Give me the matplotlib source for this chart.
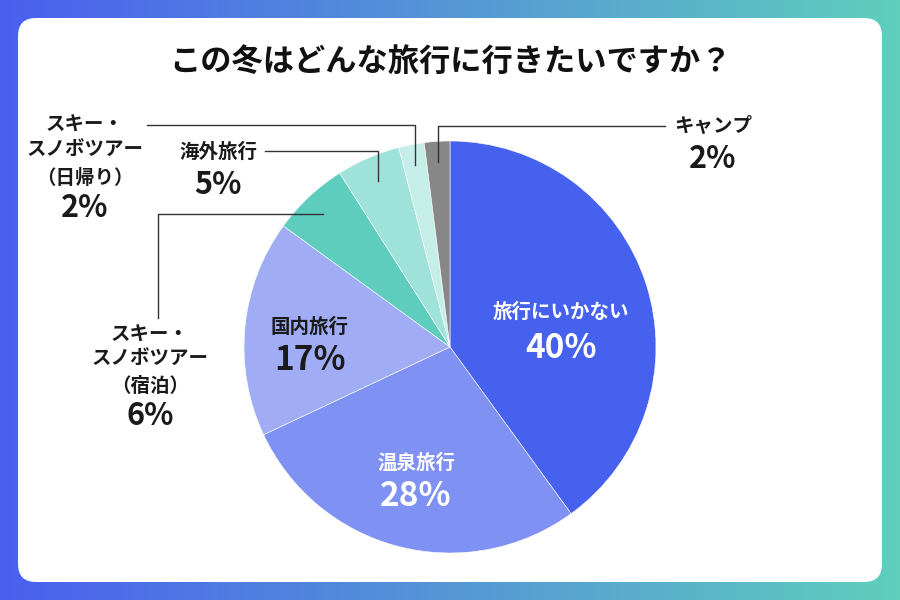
import numpy as np
import matplotlib.pyplot as plt
from matplotlib.patches import FancyBboxPatch

plt.rcParams['font.family'] = ['Noto Sans CJK JP', 'DejaVu Sans']

# Data
title = "この冬はどんな旅行に行きたいですか？"
labels = ["旅行にいかない", "温泉旅行", "国内旅行", "スキー・\nスノボツアー\n（宿泊）",
          "海外旅行", "スキー・\nスノボツアー\n（日帰り）", "キャンプ"]
values = [40, 28, 17, 6, 5, 2, 2]
colors = ["#4561EE", "#7F91F2", "#A0ADF5", "#5ECDBD", "#9FE2D9", "#C6EEE9", "#878787"]

W, H = 900, 600
fig = plt.figure(figsize=(9, 6), dpi=100)
ax = fig.add_axes([0, 0, 1, 1])
ax.set_xlim(0, W)
ax.set_ylim(0, H)
ax.set_aspect('equal')
ax.axis('off')

def Y(y):
    # convert pixel row (from top) to axes y
    return H - y

# gradient background
c1 = np.array([0x4A, 0x5F, 0xEF]) / 255
c2 = np.array([0x60, 0xCE, 0xBD]) / 255
t = np.linspace(0, 1, 256)
grad = (c1[None, :] * (1 - t[:, None]) + c2[None, :] * t[:, None])[None, :, :]
ax.imshow(grad, extent=[0, W, 0, H], aspect='auto', zorder=0)

# white panel
panel = FancyBboxPatch((18, Y(582)), 864, 564, boxstyle="round,pad=0,rounding_size=18",
                       fc='white', ec='none', zorder=1)
ax.add_patch(panel)

ax.text(450, Y(63), title, ha='center', va='center', fontsize=22.5,
        fontweight='bold', color='#111111', zorder=5)

# pie
cx, cy, r = 450, Y(347), 206
wedges, _ = ax.pie(values, colors=colors, startangle=90, counterclock=False,
                   center=(cx, cy), radius=r, frame=True,
                   wedgeprops=dict(edgecolor='white', linewidth=0.4))
for w in wedges:
    w.set_zorder(3)
ax.set_xlim(0, W)
ax.set_ylim(0, H)
ax.axis('off')

def mid_angle(i):
    before = sum(values[:i])
    frac = (before + values[i] / 2) / sum(values)
    return np.deg2rad(90 - 360 * frac)

def point_on(i, k):
    a = mid_angle(i)
    return cx + k * r * np.cos(a), cy + k * r * np.sin(a)

txt = '#1a1a1a'
lab_fs = 14
pct_fs = 22

# labels inside the pie
inner = {0: (561, 312, 348), 1: (416, 463, 496), 2: (310, 327, 360)}
for i, (x, y1, y2) in inner.items():
    tc = 'white' if i < 2 else txt
    ax.text(x, Y(y1), labels[i], ha='center', va='center', fontsize=lab_fs,
            fontweight='bold', color=tc, zorder=5)
    ax.text(x, Y(y2), f"{values[i]}%", ha='center', va='center', fontsize=24,
            fontweight='bold', color=tc, zorder=5)

lc = '#333333'
lw = 1.0

# キャンプ
x0, y0 = point_on(6, 0.9)
ax.plot([x0, x0, 665], [y0, Y(126), Y(126)], color=lc, lw=lw, zorder=4)
ax.text(713, Y(126), labels[6], ha='center', va='center', fontsize=lab_fs,
        fontweight='bold', color=txt, zorder=5)
ax.text(713, Y(159), f"{values[6]}%", ha='center', va='center', fontsize=pct_fs,
        fontweight='bold', color=txt, zorder=5)

# スキー・スノボツアー（日帰り）
x0, y0 = point_on(5, 0.9)
ax.plot([x0, x0, 147], [y0, Y(125), Y(125)], color=lc, lw=lw, zorder=4)
for s, y in zip(labels[5].split('\n'), [125, 150, 178]):
    ax.text(85, Y(y), s, ha='center', va='center', fontsize=lab_fs,
            fontweight='bold', color=txt, zorder=5)
ax.text(85, Y(208), f"{values[5]}%", ha='center', va='center', fontsize=pct_fs,
        fontweight='bold', color=txt, zorder=5)

# 海外旅行
x0, y0 = point_on(4, 0.88)
ax.plot([x0, x0, 265], [y0, Y(151), Y(151)], color=lc, lw=lw, zorder=4)
ax.text(218, Y(152), labels[4], ha='center', va='center', fontsize=lab_fs,
        fontweight='bold', color=txt, zorder=5)
ax.text(218, Y(185), f"{values[4]}%", ha='center', va='center', fontsize=pct_fs,
        fontweight='bold', color=txt, zorder=5)

# スキー・スノボツアー（宿泊）
x0, y0 = point_on(3, 0.9)
ax.plot([x0, 158, 158], [Y(214), Y(214), Y(318)], color=lc, lw=lw, zorder=4)
for s, y in zip(labels[3].split('\n'), [335, 359, 386]):
    ax.text(150, Y(y), s, ha='center', va='center', fontsize=lab_fs,
            fontweight='bold', color=txt, zorder=5)
ax.text(150, Y(416), f"{values[3]}%", ha='center', va='center', fontsize=pct_fs,
        fontweight='bold', color=txt, zorder=5)

fig.savefig("out.png", dpi=100)
